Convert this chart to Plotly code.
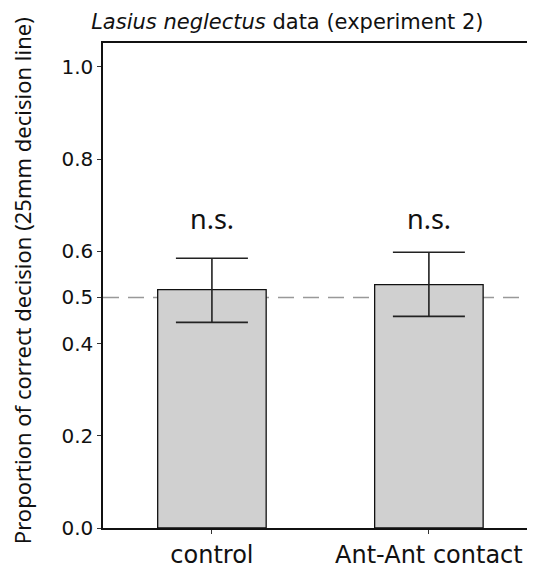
import plotly.graph_objects as go

categories = ["control", "Ant-Ant contact"]
means = [0.517, 0.528]
err_plus = [0.068, 0.070]
err_minus = [0.071, 0.069]
sig_labels = ["n.s.", "n.s."]
chance_level = 0.5
y_ticks = [0.0, 0.2, 0.4, 0.5, 0.6, 0.8, 1.0]

FONT = "DejaVu Sans"
FONT2 = "Noto Sans"

fig = go.Figure()
fig.add_trace(go.Bar(
    x=categories, y=means, width=0.5,
    marker=dict(color="#d0d0d0", line=dict(color="#111111", width=1.3)),
    error_y=dict(type="data", symmetric=False, array=err_plus, arrayminus=err_minus,
                 color="#222222", thickness=1.6, width=36),
    showlegend=False,
))

fig.add_shape(type="line", xref="paper", x0=0, x1=1, yref="y", y0=chance_level, y1=chance_level,
              line=dict(color="#999999", width=1.5, dash="16px,9px"), layer="below")

for c, s in zip(categories, sig_labels):
    fig.add_annotation(x=c, y=0.626, text=s, showarrow=False, yanchor="bottom",
                       font=dict(family=FONT2, size=27, color="#111111"))

fig.add_annotation(xref="paper", yref="paper", x=-0.1875, y=0.509, xanchor="center", yanchor="middle",
                   textangle=-90, showarrow=False,
                   text="Proportion of correct decision (25mm decision line)",
                   font=dict(family=FONT2, size=22, color="#111111"))

fig.update_layout(
    template="none",
    width=527, height=556,
    margin=dict(l=95, r=0, t=35, b=36, autoexpand=False),
    paper_bgcolor="white", plot_bgcolor="white",
    title=dict(text="<i>Lasius neglectus</i> data (experiment 2)", x=0.53, xanchor="center",
               y=0.975, yanchor="middle", font=dict(family=FONT, size=21, color="#111111")),
    font=dict(family=FONT, color="#111111"),
)
fig.update_xaxes(range=[-0.502, 1.489], showline=True, linecolor="#111111", linewidth=1.5,
                 mirror=True, ticks="outside", ticklen=4, tickcolor="#333333", automargin=False,
                 tickfont=dict(family=FONT, size=24, color="#111111"), showgrid=False, zeroline=False)
fig.update_yaxes(range=[0, 1.052], tickvals=y_ticks, ticktext=[f"{v:.1f}" for v in y_ticks],
                 showline=True, linecolor="#111111", linewidth=1.5, ticks="outside", ticklen=4,
                 tickcolor="#333333", tickfont=dict(family=FONT, size=20, color="#111111"),
                 automargin=False, showgrid=False, zeroline=False)

fig.write_html("out.html")
